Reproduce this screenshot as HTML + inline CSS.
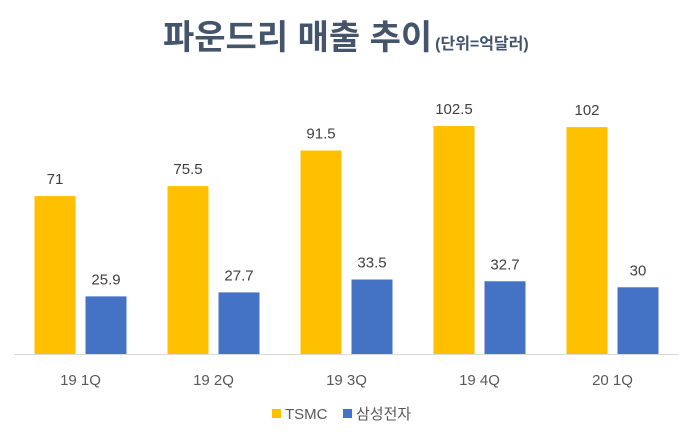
<!DOCTYPE html>
<html><head><meta charset="utf-8">
<style>
body{margin:0;background:#fff;width:700px;height:435px;overflow:hidden;font-family:"Liberation Sans","Noto Sans CJK KR",sans-serif;}
</style></head>
<body>
<svg width="700" height="435" xmlns="http://www.w3.org/2000/svg">
<text x="163" y="49" font-family="Liberation Sans, Noto Sans CJK KR, sans-serif" font-weight="bold" font-size="34" fill="#44546A">파운드리 매출 추이<tspan font-size="16" dx="3">(단위=억달러)</tspan></text>
<g id="plot"></g>
<line x1="14" y1="354.5" x2="679" y2="354.5" stroke="#d9d9d9" stroke-width="1"/>
<g font-family="Liberation Sans, Noto Sans CJK KR, sans-serif" font-size="15" fill="#595959">
<rect x="272" y="409" width="9" height="9" fill="#FFC000"/>
<text x="285" y="419">TSMC</text>
<rect x="343" y="409" width="9" height="9" fill="#4472C4"/>
<text x="356" y="419">삼성전자</text>
</g>
</svg>
<script>
const categories=["19 1Q","19 2Q","19 3Q","19 4Q","20 1Q"];
const tsmc=[71,75.5,91.5,102.5,102];
const samsung=[25.9,27.7,33.5,32.7,30];
const NS="http://www.w3.org/2000/svg";
const x0=14,catW=133,base=354,k=2.224;
function y(v){return base-v*k;}
function cx(i){return x0+catW*i+catW/2;}
const g=document.getElementById('plot');
function mk(tag,attrs){const e=document.createElementNS(NS,tag);for(const a in attrs)e.setAttribute(a,attrs[a]);g.appendChild(e);return e;}
categories.forEach((c,i)=>{
  const c0=cx(i);
  const b1=mk('rect',{x:c0-46,y:y(tsmc[i]),width:41,height:tsmc[i]*k,fill:'#FFC000'});
  
  
  const b2=mk('rect',{x:c0+5,y:y(samsung[i]),width:41,height:samsung[i]*k,fill:'#4472C4'});
  
  
  const t1=mk('text',{x:c0-25.5,y:y(tsmc[i])-12,'text-anchor':'middle','font-size':'15',fill:'#404040'});
  t1.textContent=tsmc[i];
  
  
  const t2=mk('text',{x:c0+25.5,y:y(samsung[i])-12,'text-anchor':'middle','font-size':'15',fill:'#404040'});
  t2.textContent=samsung[i];
  
  
  const tl=mk('text',{x:c0,y:385,'text-anchor':'middle','font-size':'15',fill:'#595959'});
  tl.textContent=c;
  
  
});
</script>
</body></html>
